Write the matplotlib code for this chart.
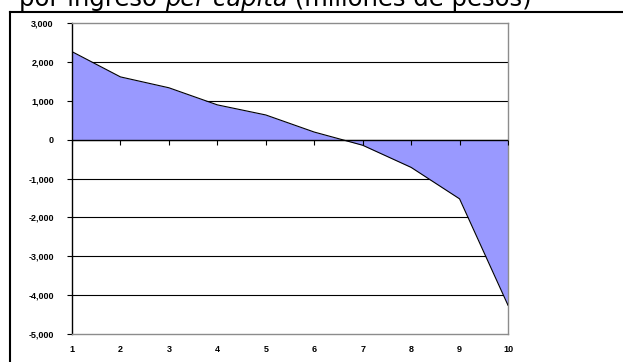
import numpy as np
import matplotlib.pyplot as plt
from matplotlib.lines import Line2D
from matplotlib.ticker import FuncFormatter

# deciles and net transfer per decile (millones de pesos)
deciles = np.arange(1, 11)
saldo = [2270, 1620, 1340, 900, 640, 200, -140, -710, -1520, -4260]
y_ticks = np.arange(-5000, 3001, 1000)

W, H = 623, 362
fig = plt.figure(figsize=(W / 100, H / 100), dpi=100)
fig.patch.set_facecolor('white')

ax = fig.add_axes([72 / W, (H - 334) / H, (508 - 72) / W, (334 - 23.3) / H])

# horizontal gridlines under the area
for yv in y_ticks[1:-1]:
    ax.axhline(yv, color='black', lw=0.8, zorder=1)

ax.fill_between(deciles, saldo, 0, color='#9999FF', lw=0, zorder=2)
ax.plot(deciles, saldo, color='black', lw=0.8, zorder=3)

# category axis crosses at zero, ticks below it
ax.axhline(0, color='black', lw=1.0, zorder=4)
ax.plot(deciles, np.zeros(len(deciles)), ls='none', marker=3, ms=3.5,
        mew=0.8, color='black', zorder=4)

ax.set_xlim(1, 10)
ax.set_ylim(-5000, 3000)
ax.set_xticks(deciles)
ax.set_yticks(y_ticks)
ax.yaxis.set_major_formatter(FuncFormatter(lambda v, _: f'{int(v):,}'))

for side in ('top', 'right', 'bottom'):
    ax.spines[side].set_color('#8c8c8c')
    ax.spines[side].set_linewidth(1.0)
ax.spines['left'].set_color('black')
ax.spines['left'].set_linewidth(1.0)

ax.tick_params(axis='x', length=0, pad=8)
ax.tick_params(axis='y', length=3.6, width=0.8, pad=9.5)
for lab in ax.get_xticklabels() + ax.get_yticklabels():
    lab.set_fontfamily('Liberation Sans')
    lab.set_fontweight('bold')
    lab.set_fontsize(6.5)

# outer frame of the slide box
x0, y_top = 10 / W, 1 - 12 / H
fig.add_artist(Line2D([x0, x0], [0, y_top], color='black', lw=1.5))
fig.add_artist(Line2D([x0, 1], [y_top, y_top], color='black', lw=1.5))

# title, partly cut at the top edge, with "per cápita" in italics
parts = [('por ingreso ', 'normal'), ('per cápita', 'italic'),
         (' (millones de pesos)', 'normal')]
fig.canvas.draw()
r = fig.canvas.get_renderer()
xpos = 19 / W
for txt, style in parts:
    t = fig.text(xpos, 1 - 6 / H, txt, fontsize=17.5, style=style,
                 family='DejaVu Sans', va='baseline', ha='left')
    bb = t.get_window_extent(renderer=r)
    xpos += bb.width / W

fig.savefig('out.png', dpi=100)
